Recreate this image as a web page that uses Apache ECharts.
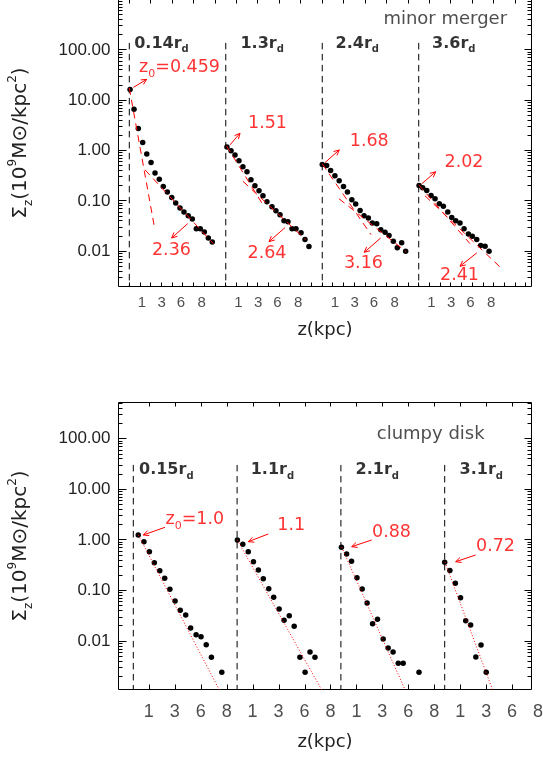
<!DOCTYPE html>
<html>
<head>
<meta charset="utf-8">
<script src="https://cdn.jsdelivr.net/npm/echarts@6.0.0/dist/echarts.min.js"></script>
<style>
html,body{margin:0;padding:0;background:#ffffff;}
#chart{width:543px;height:760px;}
</style>
</head>
<body>
<div id="chart"></div>
<script>
// ---------------- data (z measured from each dashed line, Sigma_z in 1e9 Msun/kpc^2) ----------------
// minor merger panel
const mmZ1 = [0.07,0.44,0.84,1.25,1.63,2.03,2.40,2.80,3.17,3.55,3.96,4.33,4.73,5.10,5.50,5.88,6.25,6.62,7.00,7.37,7.74];
const mmS1 = [16.4,6.6,2.73,1.44,0.86,0.58,0.36,0.27,0.194,0.150,0.117,0.091,0.072,0.060,0.051,0.044,0.0282,0.0282,0.0242,0.0184,0.0153];
const mmZ2 = [0.11,0.49,0.86,1.23,1.60,1.98,2.35,2.72,3.10,3.47,3.84,4.31,4.68,5.06,5.43,5.80,6.18,6.55,7.02,7.39,7.76];
const mmS2 = [1.18,0.99,0.82,0.625,0.475,0.379,0.263,0.200,0.159,0.127,0.0964,0.0768,0.064,0.0533,0.0406,0.0387,0.0282,0.0282,0.0234,0.0171,0.0124];
const mmZ3 = [0.0,0.41,0.78,1.18,1.58,1.98,2.35,2.76,3.12,3.53,3.90,4.30,4.67,5.08,5.46,5.86,6.23,6.63,7.00,7.41,7.78];
const mmS3 = [0.528,0.505,0.402,0.315,0.251,0.194,0.150,0.106,0.0869,0.0648,0.0509,0.0458,0.0365,0.0354,0.0269,0.0238,0.0207,0.0158,0.0117,0.0147,0.0100];
const mmZ4 = [0.03,0.37,0.75,1.15,1.52,1.92,2.30,2.71,3.08,3.45,3.85,4.23,4.63,5.00,5.41,5.78,6.19,6.56];
const mmS4 = [0.203,0.182,0.161,0.128,0.111,0.088,0.078,0.060,0.0471,0.0405,0.0365,0.0282,0.0221,0.0198,0.0171,0.0131,0.0126,0.0100];
// clumpy disk panel
const cdZ1 = [0.19,0.41,0.62,0.81,1.02,1.21,1.41,1.61,1.81,2.02,2.21,2.42,2.61,2.81,3.01,3.41];
const cdS1 = [1.26,0.925,0.587,0.356,0.247,0.175,0.106,0.0623,0.0408,0.0330,0.0182,0.0134,0.0123,0.00853,0.00481,0.00243];
const cdZ2 = [0.01,0.22,0.43,0.63,0.82,1.01,1.22,1.41,1.62,1.81,2.01,2.20,2.42,2.62,2.81,3.00];
const cdS2 = [1.0,0.822,0.587,0.372,0.255,0.172,0.109,0.0738,0.0433,0.0259,0.0319,0.0197,0.00481,0.00243,0.00612,0.00481];
const cdZ3 = [0.02,0.22,0.41,0.62,0.82,1.01,1.22,1.41,1.63,1.82,2.01,2.21,2.40,3.01];
const cdS3 = [0.718,0.529,0.379,0.180,0.108,0.0569,0.0222,0.0271,0.0110,0.00734,0.00612,0.00366,0.00366,0.00243];
const cdZ4 = [0.0,0.20,0.41,0.61,0.81,1.00,1.20,1.40,1.60];
const cdS4 = [0.364,0.250,0.139,0.0724,0.0254,0.0209,0.00488,0.00841,0.00243];

// offsets of each radial bin along the shared x axis
const topGroupOffsets = [0, 9, 18, 27];
const botGroupOffsets = [0, 4, 8, 12];

// exponential fits, endpoints [z1, S1, z2, S2] (global x units)
const topFits = [
  [0, 17.5, 2.332, 0.0313], [1.465, 0.415, 7.836, 0.01419],
  [9.067, 1.239, 12.38, 0.090], [10.607, 0.2455, 16.455, 0.01706],
  [18.0, 0.545, 22.55, 0.0214], [19.56, 0.1106, 25.81, 0.00986],
  [27.0, 0.209, 31.78, 0.0142], [27.58, 0.1268, 34.74, 0.00454]
];
const botFits = [
  [0.193, 1.256, 3.353, 0.001], [4.008, 1.0, 7.302, 0.001],
  [8.031, 0.718, 10.506, 0.001], [12.012, 0.364, 13.873, 0.001]
];

// annotation arrows [tailX, tailY, headX, headY]
const topArrows = [
  [0.373, 18.0, 1.623, 25.9], [5.448, 0.0354, 3.955, 0.0184],
  [9.394, 1.297, 10.327, 2.21], [14.524, 0.0295, 13.032, 0.01556],
  [18.255, 0.578, 19.59, 1.03], [23.45, 0.0184, 21.92, 0.00955],
  [27.28, 0.219, 28.58, 0.379], [32.41, 0.00929, 30.85, 0.00505]
];
const botArrows = [
  [1.222, 1.782, 0.385, 1.256], [5.202, 1.314, 4.432, 0.926],
  [9.187, 1.0, 8.416, 0.737], [13.195, 0.505, 12.424, 0.372]
];

// scale-height labels
const topNoteText = ['{t|z}{s|0}{t|=0.459}', '{t|2.36}', '{t|1.51}', '{t|2.64}', '{t|1.68}', '{t|3.16}', '{t|2.02}', '{t|2.41}'];
const topNoteX = [4.73, 3.98, 12.94, 12.89, 22.43, 21.89, 31.27, 30.85];
const topNoteY = [43.4, 0.01009, 3.38, 0.00881, 1.486, 0.00571, 0.558, 0.0033];
const botNoteText = ['{t|z}{s|0}{t|=1.0}', '{t|1.1}', '{t|0.88}', '{t|0.72}'];
const botNoteX = [2.389, 6.104, 9.969, 13.977];
const botNoteY = [2.49, 1.934, 1.406, 0.727];

// radius labels
const topRadius = ['0.14', '1.3', '2.4', '3.6'];
const topRadiusX = [3.05, 12.44, 21.31, 30.32];
const topRadiusY = 128.5;
const botRadius = ['0.15', '1.1', '2.1', '3.1'];
const botRadiusX = [1.29, 5.38, 9.42, 13.43];
const botRadiusY = 23.4;

// dashed separators (top end)
const topSepTop = 137.6;
const botSepTop = 30.4;

// panel titles
const topTitle = 'minor merger', topTitleX = 29.52, topTitleY = 387;
const botTitle = 'clumpy disk', botTitleX = 11.48, botTitleY = 118.9;

// x tick labels
const xTickText = ['1', '3', '6', '8'];
const topXTickLabelOffsets = [1.23, 3.07, 4.87, 6.80];
const botXTickStart = 0.617;

// axis ranges
const TOP_X = [-1.0075, 37.52], TOP_Y = [0.002, 1000];
const BOT_X = [-0.5703, 15.345], BOT_Y = [0.00111, 521];

// ---------------- helpers ----------------
const RED = '#ff0000';
const series = [];

function pointSeries(gi, off, zs, ss) {
  return { type: 'scatter', xAxisIndex: gi, yAxisIndex: gi, symbol: 'circle', symbolSize: 5.5,
    itemStyle: { color: '#000', opacity: 1, borderWidth: 0 }, z: 3, silent: true, clip: true,
    data: zs.map((z, i) => [off + z, ss[i]]) };
}
function lineSeries(gi, pts, color, dash, z) {
  return { type: 'line', xAxisIndex: gi, yAxisIndex: gi, data: pts, symbol: 'none', showSymbol: false,
    lineStyle: { color: color, width: 1, type: dash, opacity: 1 }, z: z, silent: true, clip: true };
}
function arrowSeries(gi, arr) {
  return { type: 'custom', xAxisIndex: gi, yAxisIndex: gi, data: arr, encode: { x: [0, 2], y: [1, 3] },
    silent: true, clip: false, z: 5,
    renderItem: function (params, api) {
      const a = api.coord([api.value(0), api.value(1)]);
      const b = api.coord([api.value(2), api.value(3)]);
      const ang = Math.atan2(b[1] - a[1], b[0] - a[0]);
      const h = 6, w = Math.PI / 7;
      const p1 = [b[0] - h * Math.cos(ang - w), b[1] - h * Math.sin(ang - w)];
      const p2 = [b[0] - h * Math.cos(ang + w), b[1] - h * Math.sin(ang + w)];
      return { type: 'group', children: [
        { type: 'line', shape: { x1: a[0], y1: a[1], x2: b[0], y2: b[1] }, style: { stroke: RED, lineWidth: 1 } },
        { type: 'polyline', shape: { points: [p1, b, p2] }, style: { stroke: RED, lineWidth: 1, fill: null } }
      ] };
    } };
}
function textSeries(gi, xs, ys, texts, labelStyle, offset) {
  return { type: 'scatter', xAxisIndex: gi, yAxisIndex: gi, symbolSize: 1,
    itemStyle: { color: 'rgba(0,0,0,0)' }, silent: true, clip: false, z: 6,
    data: texts.map((t, i) => ({ value: [xs[i], ys[i]], name: t })),
    label: Object.assign({ show: true, position: [0, 0], offset: offset || [0, 0], align: 'center',
      verticalAlign: 'middle', formatter: p => p.name, textBorderWidth: 0 }, labelStyle) };
}
function tickSeries(gi, xb, xt, yMaj, yMin, L) {
  const data = [];
  xb.forEach(x => data.push([x, 1, 0]));
  xt.forEach(x => data.push([x, 1, 3]));
  yMaj.forEach(y => data.push([0, y, 1]));
  yMin.forEach(y => data.push([0, y, 2]));
  return { type: 'custom', xAxisIndex: gi, yAxisIndex: gi, silent: true, clip: false, z: 10, data: data,
    renderItem: function (params, api) {
      const cs = params.coordSys;
      const kind = api.value(2);
      const p = api.coord([api.value(0), api.value(1)]);
      const st = { stroke: '#000', lineWidth: 1 };
      const left = cs.x, right = cs.x + cs.width, top = cs.y, bottom = cs.y + cs.height;
      if (kind === 0 || kind === 3) {
        const x = Math.floor(p[0]) + 0.5;
        if (kind === 0) return { type: 'line', shape: { x1: x, y1: bottom, x2: x, y2: bottom - L.xb }, style: st };
        return { type: 'line', shape: { x1: x, y1: top, x2: x, y2: top + L.xt }, style: st };
      }
      const y = Math.floor(p[1]) + 0.5;
      const ll = kind === 1 ? L.majL : L.minL;
      const lr = kind === 1 ? L.majR : L.minR;
      return { type: 'group', children: [
        { type: 'line', shape: { x1: left, y1: y, x2: left + ll, y2: y }, style: st },
        { type: 'line', shape: { x1: right, y1: y, x2: right - lr, y2: y }, style: st }
      ] };
    } };
}
function logTicks(range) {
  const maj = [], min = [];
  for (let k = -4; k <= 4; k++) {
    for (let m = 1; m <= 9; m++) {
      const v = m * Math.pow(10, k);
      if (v <= range[0] * 1.0001 || v >= range[1] * 0.9999) continue;
      (m === 1 ? maj : min).push(v);
    }
  }
  return [maj, min];
}

// ---------------- build series ----------------
const topProfiles = [[mmZ1, mmS1], [mmZ2, mmS2], [mmZ3, mmS3], [mmZ4, mmS4]];
const botProfiles = [[cdZ1, cdS1], [cdZ2, cdS2], [cdZ3, cdS3], [cdZ4, cdS4]];
topProfiles.forEach((p, g) => series.push(pointSeries(0, topGroupOffsets[g], p[0], p[1])));
botProfiles.forEach((p, g) => series.push(pointSeries(1, botGroupOffsets[g], p[0], p[1])));

topGroupOffsets.forEach(x => series.push(lineSeries(0, [[x, topSepTop], [x, TOP_Y[0]]], '#000', [6.5, 4.5], 2)));
botGroupOffsets.forEach(x => series.push(lineSeries(1, [[x, botSepTop], [x, BOT_Y[0]]], '#000', [6.5, 4.5], 2)));

topFits.forEach(f => series.push(lineSeries(0, [[f[0], f[1]], [f[2], f[3]]], RED, [7, 5], 4)));
botFits.forEach(f => series.push(lineSeries(1, [[f[0], f[1]], [f[2], f[3]]], RED, [1, 2], 4)));

series.push(arrowSeries(0, topArrows));
series.push(arrowSeries(1, botArrows));

const redLabel = { color: RED, fontFamily: 'DejaVu Sans', fontSize: 17.5,
  rich: { t: { color: RED, fontFamily: 'DejaVu Sans', fontSize: 17.5, lineHeight: 24 },
          s: { color: RED, fontFamily: 'DejaVu Sans', fontSize: 11, lineHeight: 12, verticalAlign: 'bottom' } } };
series.push(textSeries(0, topNoteX, topNoteY, topNoteText, redLabel));
series.push(textSeries(1, botNoteX, botNoteY, botNoteText, redLabel));

const boldLabel = { color: '#000', rich: {
  b: { color: '#000', fontFamily: 'DejaVu Sans', fontWeight: 'bold', fontSize: 16, lineHeight: 22 },
  d: { color: '#000', fontFamily: 'DejaVu Sans', fontWeight: 'bold', fontSize: 10, lineHeight: 10, verticalAlign: 'bottom' } } };
series.push(textSeries(0, topRadiusX, topRadius.map(() => topRadiusY), topRadius.map(t => '{b|' + t + 'r}{d|d}'), boldLabel));
series.push(textSeries(1, botRadiusX, botRadius.map(() => botRadiusY), botRadius.map(t => '{b|' + t + 'r}{d|d}'), boldLabel));

const titleLabel = { color: '#222', fontFamily: 'DejaVu Sans', fontSize: 18 };
series.push(textSeries(0, [topTitleX], [topTitleY], [topTitle], titleLabel));
series.push(textSeries(1, [botTitleX], [botTitleY], [botTitle], titleLabel));

// x tick labels
const topLabX = [], topLabT = [];
topGroupOffsets.forEach(o => topXTickLabelOffsets.forEach((d, i) => { topLabX.push(o + d); topLabT.push(xTickText[i]); }));
series.push(textSeries(0, topLabX, topLabX.map(() => TOP_Y[0]), topLabT,
  { color: '#222', fontFamily: 'Liberation Sans', fontSize: 15 }, [0, 16.5]));
const botLabX = [], botLabT = [];
for (let k = 0; k < 16; k++) { botLabX.push(botXTickStart + k); botLabT.push(xTickText[k % 4]); }
series.push(textSeries(1, botLabX, botLabX.map(() => BOT_Y[0]), botLabT,
  { color: '#222', fontFamily: 'Liberation Sans', fontSize: 18 }, [0, 23.5]));

// ticks
const topXB = [], topXT = [], botXTicks = [];
for (let k = 0; k <= 37; k++) topXB.push(k);
for (let k = 0; k <= 36; k += 2) topXT.push(k);
for (let k = 0; k <= 14; k++) botXTicks.push(botXTickStart + k);
const tl = logTicks(TOP_Y), bl = logTicks(BOT_Y);
series.push(tickSeries(0, topXB, topXT, tl[0], tl[1], { xb: 4, xt: 4, majL: 8, minL: 4, majR: 7, minR: 4 }));
series.push(tickSeries(1, botXTicks, botXTicks, bl[0], bl[1], { xb: 5, xt: 4, majL: 8, minL: 4, majR: 7, minR: 4 }));

// ---------------- axes ----------------
function yLabel(v) {
  const l = Math.log10(v), r = Math.round(l);
  if (Math.abs(l - r) > 1e-6 || r < -2 || r > 2) return '';
  return Math.pow(10, r).toFixed(2);
}
const yName = '{t|Σ}{s|z}{t|(10}{p|9}{t|M⊙/kpc}{p|2}{t|)}';
const yNameStyle = { rich: {
  t: { fontFamily: 'DejaVu Sans', fontSize: 20, color: '#222', lineHeight: 28 },
  s: { fontFamily: 'DejaVu Sans', fontSize: 12, color: '#222', lineHeight: 13, verticalAlign: 'bottom' },
  p: { fontFamily: 'DejaVu Sans', fontSize: 12, color: '#222', lineHeight: 13, verticalAlign: 'top' } } };

function yAxis(gi, range) {
  return { type: 'log', gridIndex: gi, min: range[0], max: range[1], logBase: 10,
    axisLine: { show: false }, axisTick: { show: false }, splitLine: { show: false }, minorTick: { show: false },
    axisLabel: { formatter: yLabel, fontFamily: 'Liberation Sans', fontSize: 17, color: '#222', margin: 8, showMinLabel: true, showMaxLabel: true },
    name: yName, nameLocation: 'middle', nameRotate: 90, nameGap: 84, nameTextStyle: yNameStyle, nameMoveOverlap: false };
}
function xAxis(gi, range, gap) {
  return { type: 'value', gridIndex: gi, min: range[0], max: range[1],
    axisLine: { show: false }, axisTick: { show: false }, axisLabel: { show: false }, splitLine: { show: false },
    name: 'z(kpc)', nameLocation: 'middle', nameGap: gap, nameMoveOverlap: false,
    nameTextStyle: { fontFamily: 'DejaVu Sans', fontSize: 18, color: '#222' } };
}

const option = {
  animation: false,
  backgroundColor: '#ffffff',
  grid: [
    { left: 118.5, top: -0.5, width: 413, height: 287, show: true, borderColor: '#000', borderWidth: 1, backgroundColor: 'transparent', containLabel: false, outerBoundsMode: 'none' },
    { left: 118.5, top: 402.5, width: 413, height: 287, show: true, borderColor: '#000', borderWidth: 1, backgroundColor: 'transparent', containLabel: false, outerBoundsMode: 'none' }
  ],
  xAxis: [xAxis(0, TOP_X, 35), xAxis(1, BOT_X, 44)],
  yAxis: [yAxis(0, TOP_Y), yAxis(1, BOT_Y)],
  series: series
};

const chart = echarts.init(document.getElementById('chart'), null, { renderer: 'canvas' });
chart.setOption(option);
</script>
</body>
</html>
